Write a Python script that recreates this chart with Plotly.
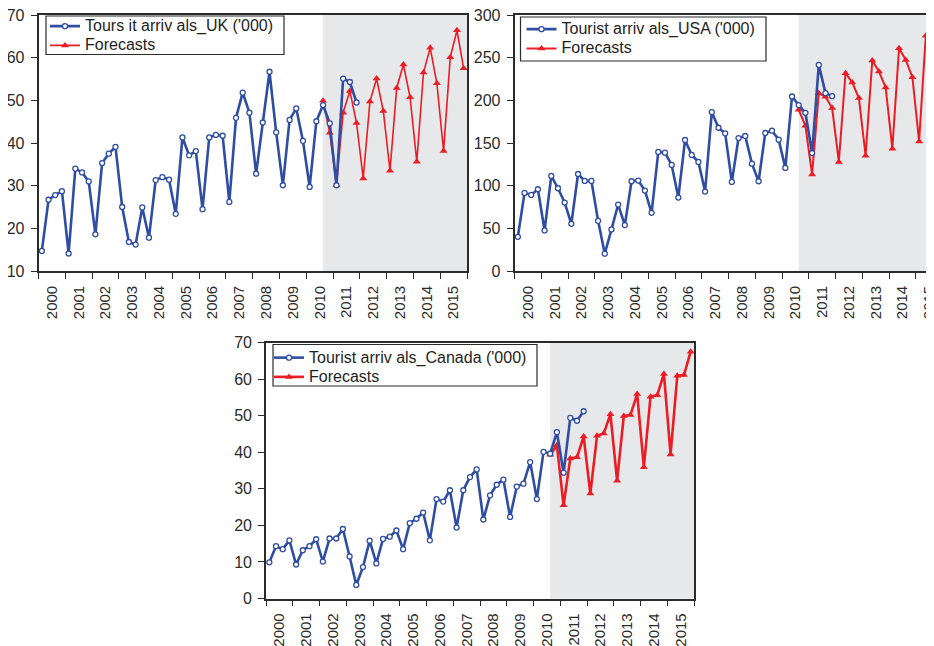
import plotly.graph_objects as go

# ---------------- data (quarterly, actual from 2000Q1, forecasts from 2010Q3) ----------------
years = list(range(2000, 2016))
year_labels = [str(y) for y in years]

uk_actual = [14.7, 26.7, 27.8, 28.7,
             14.1, 34.0, 33.1, 31.0,
             18.6, 35.3, 37.5, 39.1,
             25.0, 16.8, 16.2, 24.9,
             17.8, 31.3, 32.0, 31.4,
             23.4, 41.3, 37.1, 38.1,
             24.5, 41.3, 41.9, 41.7,
             26.2, 45.9, 51.8, 47.1,
             32.8, 44.8, 56.7, 42.5,
             30.1, 45.4, 48.1, 40.5,
             29.7, 45.1, 48.9, 44.6,
             30.1, 55.1, 54.3, 49.5]
uk_forecast = [49.9, 42.4,
               30.1, 47.1, 52.2, 44.7,
               31.7, 49.7, 55.1, 47.5,
               33.5, 52.9, 58.4, 50.7,
               35.6, 56.5, 62.3, 54.0,
               38.1, 60.1, 66.4, 57.5]

usa_actual = [40.1, 91.5, 89.2, 95.8,
              47.5, 111.4, 97.0, 80.2,
              55.3, 113.7, 105.6, 105.6,
              58.8, 20.3, 48.7, 77.9,
              53.8, 105.2, 106.0, 94.3,
              68.2, 139.5, 138.7, 124.3,
              86.1, 153.5, 136.0, 127.8,
              93.1, 186.2, 167.9, 161.3,
              104.4, 155.8, 158.2, 125.8,
              105.2, 161.7, 164.4, 153.9,
              120.8, 204.5, 194.4, 185.4,
              138.3, 241.5, 208.4, 204.9]
usa_forecast = [188.9, 170.2,
                113.0, 208.4, 204.1, 190.9,
                127.8, 231.8, 220.9, 202.6,
                135.2, 246.6, 233.7, 215.0,
                143.4, 261.0, 247.4, 227.1,
                151.9, 275.8, 261.0, 240.0]

can_actual = [9.9, 14.3, 13.5, 15.9,
              9.3, 13.2, 14.3, 16.2,
              10.1, 16.4, 16.4, 19.0,
              11.5, 3.7, 8.6, 15.8,
              9.6, 16.3, 16.9, 18.6,
              13.5, 20.6, 21.8, 23.5,
              15.9, 27.2, 26.5, 29.6,
              19.4, 29.6, 33.2, 35.3,
              21.6, 28.2, 31.1, 32.5,
              22.3, 30.6, 31.4, 37.3,
              27.2, 40.1, 39.6, 45.5,
              34.4, 49.4, 48.6, 51.2]
can_forecast = [39.3, 41.9,
                25.5, 38.3, 38.6, 44.3,
                28.7, 44.5, 45.1, 50.4,
                32.2, 49.9, 50.2, 55.9,
                35.9, 55.2, 55.6, 61.4,
                39.4, 60.9, 61.1, 67.5]

actual_start = (2000, 1)
forecast_start = (2010, 3)

names = ["Tours it arriv als_UK ('000)",
         "Tourist arriv als_USA ('000)",
         "Tourist arriv als_Canada ('000)"]
forecast_name = "Forecasts"


def qx(start, n):
    y0, q0 = start
    return [y0 + (q0 - 1 + i + 0.5) / 4.0 for i in range(n)]


BLUE = "#2F4DA3"
RED = "#EC1C24"
SHADE = "#E7E8EA"
INK = "#2B2B2B"
FONT = "Liberation Sans, Arial, sans-serif"


def big(s):
    return "<span style='font-size:16px'>" + s + "</span>"


# page has an 8px body margin: figure is offset by 8px
W, H = 926, 638
OFF = 8


def px_x(p):
    return (p - OFF) / W


def px_y(p):
    return 1 - (p - OFF) / H


fig = go.Figure()

panels = [
    dict(act=uk_actual, fc=uk_forecast, name=names[0], ax="", leg="legend", redw=1.6,
         box=(46, 16, 284, 54.5)),
    dict(act=usa_actual, fc=usa_forecast, name=names[1], ax="2", leg="legend2", redw=2.0,
         box=(520.5, 17, 766, 61)),
    dict(act=can_actual, fc=can_forecast, name=names[2], ax="3", leg="legend3", redw=2.6,
         box=(273, 344.5, 537, 386)),
]

for p in panels:
    xa = "x" + p["ax"]
    ya = "y" + p["ax"]
    fig.add_trace(go.Scatter(
        x=qx(forecast_start, len(p["fc"])), y=p["fc"], name=big(forecast_name),
        mode="lines+markers", xaxis=xa, yaxis=ya, legend=p["leg"], legendrank=2,
        line=dict(color=RED, width=p["redw"]),
        marker=dict(symbol="triangle-up", size=7, color=RED)))
    fig.add_trace(go.Scatter(
        x=qx(actual_start, len(p["act"])), y=p["act"], name=big(p["name"]),
        mode="lines+markers", xaxis=xa, yaxis=ya, legend=p["leg"], legendrank=1,
        line=dict(color=BLUE, width=2.6),
        marker=dict(symbol="circle", size=5, color="white",
                    line=dict(color=BLUE, width=1.3))))
    fig.add_shape(type="rect", xref=xa, yref=ya + " domain",
                  x0=forecast_start[0] + (forecast_start[1] - 1 + 0.5) / 4.0, x1=2016,
                  y0=0, y1=1, fillcolor=SHADE, line_width=0, layer="below")
    # legend frame (white box behind the legend entries)
    bx0, by0, bx1, by1 = p["box"]
    fig.add_shape(type="rect", xref="paper", yref="paper",
                  x0=px_x(bx0), x1=px_x(bx1), y0=px_y(by1), y1=px_y(by0),
                  fillcolor="white", line=dict(color=INK, width=1.2), layer="above")


def xaxis_cfg(domain, rng, anchor):
    return dict(
        domain=domain, range=rng, anchor=anchor, showgrid=False, zeroline=False,
        showline=True, mirror=True, linecolor=INK, linewidth=1.6,
        tickmode="array", tickvals=[y + 0.5 for y in years], ticktext=year_labels,
        ticks="outside", ticklen=6, tickcolor="rgba(0,0,0,0)", tickangle=-90,
        ticklabelstandoff=1, ticklabeloverflow="allow",
        tickfont=dict(family=FONT, size=15, color=INK),
        minor=dict(tickmode="array", tickvals=years + [2016], ticks="outside",
                   ticklen=6, tickwidth=1.4, tickcolor=INK, showgrid=False),
        automargin=False, fixedrange=True)


def yaxis_cfg(domain, rng, dtick, mirror, anchor):
    return dict(
        domain=domain, range=rng, dtick=dtick, tick0=0, anchor=anchor,
        showgrid=False, zeroline=False,
        showline=True, mirror=mirror, linecolor=INK, linewidth=1.6,
        ticks="outside", ticklen=6, tickwidth=1.4, tickcolor=INK,
        ticklabelstandoff=3, ticklabeloverflow="allow",
        tickfont=dict(family=FONT, size=16, color=INK),
        automargin=False, fixedrange=True)


top_dom = [px_y(271), px_y(15)]
bot_dom = [px_y(598.5), px_y(342.5)]

usa_left = 514.5
usa_right_year = 2000 + (934 - usa_left) / 26.75

legend_common = dict(font=dict(family=FONT, size=12.5, color="#1E1E1E"),
                     bgcolor="rgba(0,0,0,0)", borderwidth=0,
                     xanchor="left", yanchor="top", itemsizing="trace",
                     traceorder="normal", tracegroupgap=0)

fig.update_layout(
    width=W, height=H,
    margin=dict(l=0, r=0, t=0, b=0),
    paper_bgcolor="white", plot_bgcolor="white",
    font=dict(family=FONT, color=INK),
    xaxis=xaxis_cfg([px_x(38.5), px_x(467)], [2000, 2016], "y"),
    yaxis=yaxis_cfg(top_dom, [10, 70], 10, True, "x"),
    xaxis2=xaxis_cfg([px_x(usa_left), 1.0], [2000, usa_right_year], "y2"),
    yaxis2=yaxis_cfg(top_dom, [0, 300], 50, False, "x2"),
    xaxis3=xaxis_cfg([px_x(266), px_x(694)], [2000, 2016], "y3"),
    yaxis3=yaxis_cfg(bot_dom, [0, 70], 10, True, "x3"),
    legend=dict(x=px_x(45), y=px_y(11.5), **legend_common),
    legend2=dict(x=px_x(521.5), y=px_y(14.5), **legend_common),
    legend3=dict(x=px_x(269), y=px_y(343), **legend_common),
    showlegend=True,
)

fig.write_html("out.html")
